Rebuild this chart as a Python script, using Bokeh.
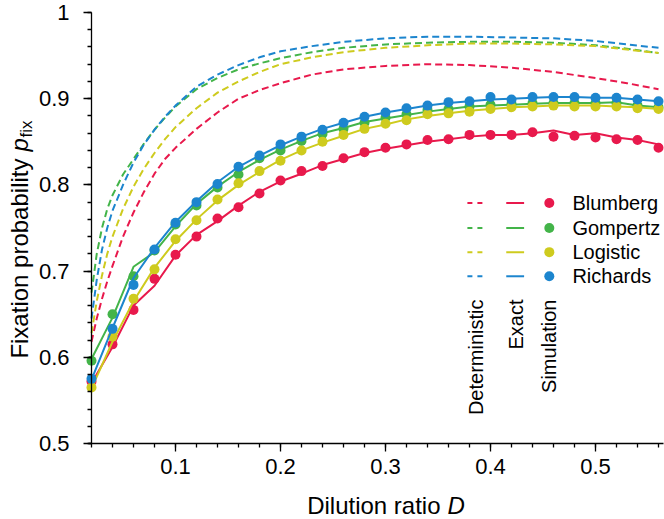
from math import pi
from bokeh.plotting import figure
from bokeh.models import FixedTicker, Range1d, Label
from bokeh.core.properties import value
from bokeh.embed import file_html
from bokeh.resources import INLINE

FONT = "Liberation Sans"

models = ["Blumberg", "Gompertz", "Logistic", "Richards"]
colors = ["#E8194C", "#43B449", "#CECB1E", "#1C85CE"]

# dilution ratio D of the simulated / exact points
d_points = [0.02, 0.04, 0.06, 0.08, 0.10, 0.12, 0.14, 0.16, 0.18, 0.20,
            0.22, 0.24, 0.26, 0.28, 0.30, 0.32, 0.34, 0.36, 0.38, 0.40,
            0.42, 0.44, 0.46, 0.48, 0.50, 0.52, 0.54, 0.56]

sim_blumberg = [0.572, 0.615, 0.655, 0.691, 0.719, 0.740, 0.761, 0.774, 0.790, 0.805,
                0.816, 0.822, 0.831, 0.838, 0.843, 0.847, 0.852, 0.853, 0.858, 0.858,
                0.858, 0.861, 0.856, 0.857, 0.855, 0.853, 0.852, 0.843]
sim_gompertz = [0.596, 0.650, 0.694, 0.724, 0.754, 0.776, 0.797, 0.812, 0.831, 0.840,
                0.851, 0.859, 0.865, 0.872, 0.878, 0.882, 0.887, 0.888, 0.891, 0.893,
                0.894, 0.895, 0.895, 0.895, 0.895, 0.895, 0.892, 0.890]
sim_logistic = [0.565, 0.624, 0.668, 0.702, 0.737, 0.759, 0.783, 0.802, 0.816, 0.828,
                0.840, 0.850, 0.858, 0.865, 0.871, 0.875, 0.882, 0.883, 0.885, 0.888,
                0.890, 0.891, 0.892, 0.891, 0.891, 0.891, 0.889, 0.888]
sim_richards = [0.575, 0.633, 0.684, 0.725, 0.756, 0.780, 0.801, 0.821, 0.834, 0.847,
                0.856, 0.864, 0.872, 0.879, 0.884, 0.889, 0.892, 0.896, 0.897, 0.902,
                0.899, 0.902, 0.902, 0.902, 0.901, 0.901, 0.899, 0.897]

exact_blumberg = [0.570, 0.612, 0.660, 0.683, 0.718, 0.742, 0.758, 0.776, 0.792, 0.804,
                  0.813, 0.823, 0.830, 0.837, 0.842, 0.846, 0.850, 0.853, 0.856, 0.858,
                  0.858, 0.860, 0.863, 0.858, 0.860, 0.855, 0.852, 0.847]
exact_gompertz = [0.598, 0.646, 0.705, 0.722, 0.752, 0.778, 0.798, 0.815, 0.829, 0.841,
                  0.851, 0.860, 0.866, 0.873, 0.877, 0.881, 0.885, 0.888, 0.891, 0.892,
                  0.893, 0.894, 0.895, 0.895, 0.895, 0.896, 0.892, 0.890]
exact_logistic = [0.564, 0.618, 0.665, 0.704, 0.735, 0.760, 0.782, 0.800, 0.815, 0.829,
                  0.840, 0.849, 0.857, 0.865, 0.870, 0.876, 0.880, 0.883, 0.886, 0.888,
                  0.890, 0.891, 0.892, 0.892, 0.892, 0.891, 0.890, 0.888]
exact_richards = [0.574, 0.634, 0.692, 0.727, 0.757, 0.781, 0.803, 0.821, 0.834, 0.846,
                  0.856, 0.865, 0.872, 0.879, 0.884, 0.888, 0.892, 0.895, 0.897, 0.899,
                  0.900, 0.901, 0.902, 0.902, 0.901, 0.901, 0.899, 0.897]

# deterministic curves
d_det = [0.02, 0.025, 0.03, 0.035, 0.04, 0.05, 0.06, 0.07, 0.08, 0.09, 0.10, 0.12, 0.14,
         0.16, 0.18, 0.20, 0.23, 0.26, 0.30, 0.34, 0.38, 0.42, 0.46, 0.50, 0.53, 0.56]
det_blumberg = [0.618, 0.645, 0.668, 0.688, 0.706, 0.740, 0.768, 0.792, 0.813, 0.830, 0.843,
                0.865, 0.884, 0.900, 0.910, 0.918, 0.928, 0.934, 0.938, 0.940, 0.939,
                0.936, 0.931, 0.924, 0.918, 0.911]
det_gompertz = [0.675, 0.720, 0.750, 0.772, 0.788, 0.812, 0.830, 0.848, 0.864, 0.878, 0.891,
                0.911, 0.924, 0.934, 0.941, 0.947, 0.954, 0.959, 0.963, 0.965, 0.966,
                0.966, 0.965, 0.962, 0.958, 0.953]
det_logistic = [0.628, 0.665, 0.695, 0.720, 0.740, 0.772, 0.798, 0.819, 0.837, 0.853, 0.867,
                0.889, 0.907, 0.920, 0.931, 0.940, 0.948, 0.954, 0.959, 0.962, 0.964,
                0.964, 0.963, 0.961, 0.957, 0.953]
det_richards = [0.645, 0.690, 0.725, 0.750, 0.770, 0.800, 0.826, 0.847, 0.864, 0.879, 0.892,
                0.914, 0.928, 0.939, 0.948, 0.955, 0.961, 0.966, 0.970, 0.972, 0.972,
                0.971, 0.970, 0.967, 0.963, 0.959]

sims = [sim_blumberg, sim_gompertz, sim_logistic, sim_richards]
exacts = [exact_blumberg, exact_gompertz, exact_logistic, exact_richards]
dets = [det_blumberg, det_gompertz, det_logistic, det_richards]

x_major = [0.1, 0.2, 0.3, 0.4, 0.5]
y_major = [0.5, 0.6, 0.7, 0.8, 0.9, 1.0]

# the frame covers the whole canvas; axes sit at fixed data positions inside it
p = figure(width=664, height=519,
           x_range=Range1d(-0.06667, 0.56571), y_range=Range1d(0.41183, 1.01392),
           output_backend="svg", toolbar_location=None,
           min_border=0, min_border_left=0, min_border_right=0,
           min_border_top=0, min_border_bottom=0)
p.outline_line_color = None
p.grid.visible = False
p.background_fill_color = "white"

p.xaxis.ticker = FixedTicker(ticks=x_major, minor_ticks=[round(0.02 * k, 2) for k in range(1, 29)])
p.yaxis.ticker = FixedTicker(ticks=y_major, minor_ticks=[round(0.5 + 0.02 * k, 2) for k in range(26)])
p.yaxis.major_label_overrides = {1: "1"}
p.yaxis.fixed_location = 0.02
p.xaxis.fixed_location = 0.5
p.yaxis.bounds = (0.5, 1.0)
p.xaxis.bounds = (0.017, 0.565)
for ax in [p.xaxis[0], p.yaxis[0]]:
    ax.axis_line_color = "black"
    ax.axis_line_width = 1.3
    ax.major_tick_in = 0
    ax.major_tick_out = 8
    ax.minor_tick_in = 0
    ax.minor_tick_out = 4
    ax.major_tick_line_color = "black"
    ax.minor_tick_line_color = "black"
    ax.major_tick_line_width = 1.3
    ax.minor_tick_line_width = 1.3
    ax.major_label_text_font = FONT
    ax.major_label_text_font_size = "22px"
    ax.major_label_text_color = "black"
p.xaxis.major_label_standoff = 8
p.yaxis.major_label_standoff = 14

for c, det in zip(colors, dets):
    p.line(d_det, det, line_color=c, line_width=2, line_dash="7 4")
for c, ex, sm in zip(colors, exacts, sims):
    p.line(d_points, ex, line_color=c, line_width=2)
    p.scatter(d_points, sm, size=10, fill_color=c, line_color=None)

# hand-made legend
rows = [0.779, 0.750, 0.722, 0.694]
p.segment(x0=[0.378] * 4, y0=rows, x1=[0.393] * 4, y1=rows, line_color=colors,
          line_width=2, line_dash="5 5")
p.segment(x0=[0.415] * 4, y0=rows, x1=[0.432] * 4, y1=rows, line_color=colors, line_width=2)
p.scatter(x=[0.456] * 4, y=rows, size=10, fill_color=colors, line_color=None)
p.text(x=[0.478] * 4, y=rows, text=models, text_font=value(FONT), text_font_size="20px",
       text_baseline="middle", text_align="left", text_color="black")
p.text(x=[0.386, 0.424, 0.456], y=[0.667] * 3, text=["Deterministic", "Exact", "Simulation"],
       angle=pi / 2, text_font=value(FONT), text_font_size="20px",
       text_baseline="middle", text_align="right", text_color="black")

# axis titles with italic symbol and subscript
lab = dict(text_font=FONT, text_color="black", text_baseline="middle")
p.add_layout(Label(x=-0.0486, y=0.8306, text="Fixation probability", angle=pi / 2,
                   text_align="right", text_font_size="24px", **lab))
p.add_layout(Label(x=-0.0486, y=0.8387, text="p", angle=pi / 2, text_align="left",
                   text_font_size="24px", text_font_style="italic", **lab))
p.add_layout(Label(x=-0.0418, y=0.8550, text="fix", angle=pi / 2, text_align="left",
                   text_font_size="17px", **lab))
p.add_layout(Label(x=0.3524, y=0.4281, text="Dilution ratio", text_align="right",
                   text_font_size="24px", **lab))
p.add_layout(Label(x=0.3591, y=0.4281, text="D", text_align="left",
                   text_font_size="24px", text_font_style="italic", **lab))

open("out.html", "w").write(file_html(p, INLINE))
